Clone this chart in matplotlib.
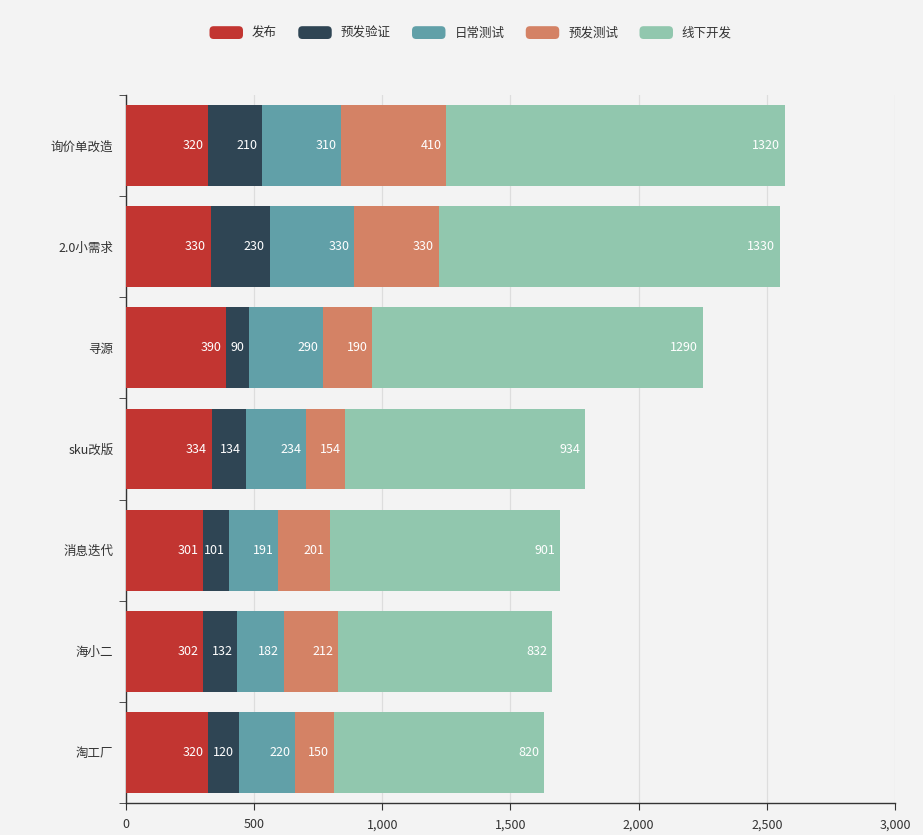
import matplotlib
matplotlib.use("Agg")
import matplotlib.pyplot as plt
from matplotlib.patches import FancyBboxPatch, Rectangle
from matplotlib.legend_handler import HandlerPatch
from matplotlib.ticker import FuncFormatter, MultipleLocator
import numpy as np

plt.rcParams['font.family'] = ['Noto Sans CJK SC', 'DejaVu Sans']

categories = ['询价单改造', '2.0小需求', '寻源', 'sku改版', '消息迭代', '海小二', '淘工厂']
series_names = ['发布', '预发验证', '日常测试', '预发测试', '线下开发']
s_fabu = [320, 330, 390, 334, 301, 302, 320]
s_yanzheng = [210, 230, 90, 134, 101, 132, 120]
s_richang = [310, 330, 290, 234, 191, 182, 220]
s_yufa = [410, 330, 190, 154, 201, 212, 150]
s_xianxia = [1320, 1330, 1290, 934, 901, 832, 820]
series = [s_fabu, s_yanzheng, s_richang, s_yufa, s_xianxia]
colors = ['#c23531', '#2f4554', '#61a0a8', '#d48265', '#91c7ae']

bg = '#f3f3f3'
fig = plt.figure(figsize=(9.23, 8.35), dpi=100, facecolor=bg)
ax = fig.add_axes([126/923, 1-803/835, (895-126)/923, (803-95)/835])
ax.set_facecolor(bg)

y = np.arange(len(categories))
left = np.zeros(len(categories))
for name, vals, c in zip(series_names, series, colors):
    vals = np.array(vals, dtype=float)
    ax.barh(y, vals, left=left, height=0.8, color=c, label=name, zorder=3)
    for yi, l, v in zip(y, left, vals):
        ax.text(l + v - 18, yi, f'{int(v)}', ha='right', va='center',
                color='white', fontsize=9, zorder=4)
    left += vals

ax.set_xlim(0, 3000)
ax.set_ylim(len(categories) - 0.5, -0.5)
ax.xaxis.set_major_locator(MultipleLocator(500))
ax.xaxis.set_major_formatter(FuncFormatter(lambda v, p: f'{int(v):,}'))
ax.grid(axis='x', color='#dddddd', linewidth=0.9, zorder=0)
ax.set_yticks(y)
ax.set_yticklabels(categories)
ax.set_yticks(np.arange(-0.5, len(categories) + 0.5, 1), minor=True)
ax.tick_params(axis='y', which='major', length=0, pad=9, labelsize=9, labelcolor='#333333')
ax.tick_params(axis='y', which='minor', length=5, color='#333333', direction='out')
ax.tick_params(axis='x', which='major', length=5, color='#333333', labelsize=9, labelcolor='#333333', pad=6)
for s in ['top', 'right']:
    ax.spines[s].set_visible(False)
for s in ['left', 'bottom']:
    ax.spines[s].set_color('#333333')
    ax.spines[s].set_linewidth(1)


class RoundHandler(HandlerPatch):
    def create_artists(self, legend, orig_handle, xdescent, ydescent, width, height, fontsize, trans):
        p = FancyBboxPatch((-xdescent + 1, -ydescent), width - 2, height,
                           boxstyle='round,pad=0,rounding_size=3',
                           facecolor=orig_handle.get_facecolor(), edgecolor='none', transform=trans)
        return [p]


handles = [Rectangle((0, 0), 1, 1, facecolor=c) for c in colors]
leg = fig.legend(handles, series_names, loc='center', bbox_to_anchor=(470/923, 1-33/835),
                 ncol=5, frameon=False, fontsize=9, handlelength=2.9, handleheight=1.2,
                 handletextpad=0.6, columnspacing=1.6,
                 handler_map={Rectangle: RoundHandler()})
for t in leg.get_texts():
    t.set_color('#333333')

fig.savefig('out.png', dpi=100, facecolor=bg)
